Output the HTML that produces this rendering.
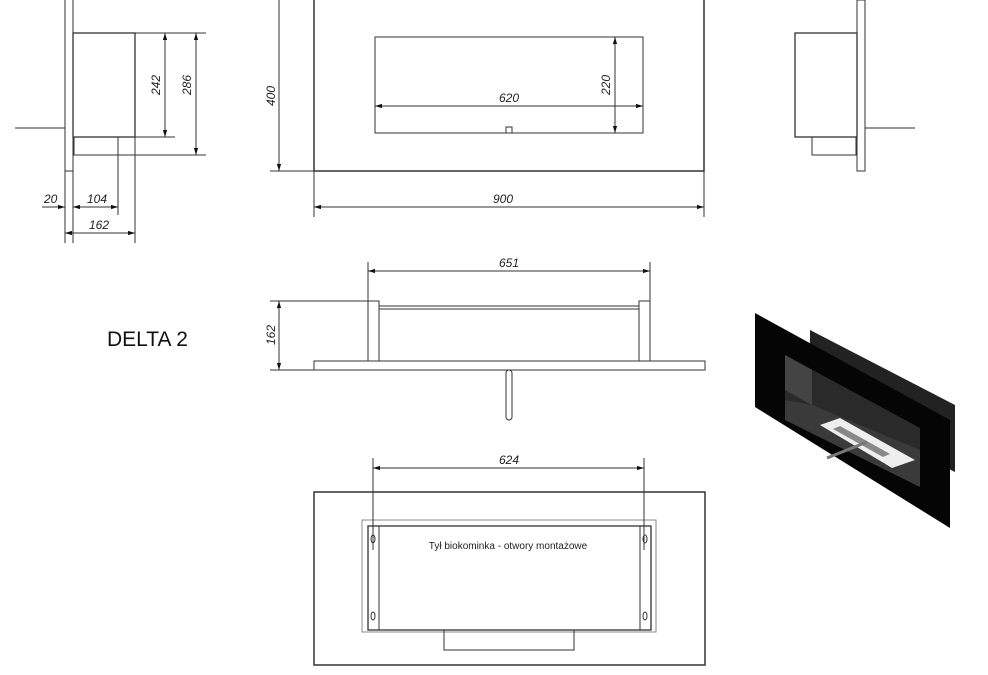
<!DOCTYPE html>
<html><head><meta charset="utf-8"><style>
body{margin:0;background:#fff;}
svg{display:block}
text{font-family:"Liberation Sans",sans-serif;font-style:italic;font-size:12px;fill:#222}
</style></head><body>
<svg width="988" height="675" viewBox="0 0 988 675" xmlns="http://www.w3.org/2000/svg">
<defs>
<marker id="a" viewBox="0 0 10 10" refX="10" refY="5" markerWidth="7" markerHeight="7" orient="auto-start-reverse"><path d="M0,2 L10,5 L0,8z" fill="#111"/></marker>
</defs>
<g stroke="#333" fill="none" stroke-width="1">
<line x1="65" y1="0" x2="65" y2="243"/><line x1="73" y1="0" x2="73" y2="243"/>
<line x1="65" y1="171" x2="73" y2="171"/>
<rect x="73" y="33" width="62" height="104" stroke-width="1.3"/>
<rect x="74" y="137" width="44" height="18"/>
<line x1="118" y1="155" x2="118" y2="215"/><line x1="135" y1="137" x2="135" y2="243"/>
<line x1="15" y1="128" x2="65" y2="128"/>
<line x1="135" y1="33" x2="206" y2="33"/><line x1="135" y1="137" x2="175" y2="137"/><line x1="118" y1="155" x2="206" y2="155"/>
<line x1="165" y1="33" x2="165" y2="137" marker-start="url(#a)" marker-end="url(#a)"/>
<line x1="196" y1="33" x2="196" y2="155" marker-start="url(#a)" marker-end="url(#a)"/>
<line x1="42" y1="207" x2="65" y2="207" marker-end="url(#a)"/>
<line x1="73" y1="207" x2="118" y2="207" marker-start="url(#a)" marker-end="url(#a)"/>
<line x1="65" y1="233" x2="135" y2="233" marker-start="url(#a)" marker-end="url(#a)"/>
<rect x="314" y="-2" width="390" height="173" stroke-width="1.5"/>
<rect x="375" y="37" width="268" height="96"/>
<rect x="506" y="127" width="6" height="6"/>
<line x1="375" y1="106" x2="643" y2="106" marker-start="url(#a)" marker-end="url(#a)"/>
<line x1="615" y1="37" x2="615" y2="133" marker-start="url(#a)" marker-end="url(#a)"/>
<line x1="270" y1="171" x2="314" y2="171"/>
<line x1="279" y1="0" x2="279" y2="171" marker-end="url(#a)"/>
<line x1="314" y1="171" x2="314" y2="217"/><line x1="704" y1="171" x2="704" y2="217"/>
<line x1="314" y1="207" x2="704" y2="207" marker-start="url(#a)" marker-end="url(#a)"/>
<rect x="795" y="33" width="62" height="104" stroke-width="1.3"/>
<rect x="857" y="0" width="8" height="171"/>
<rect x="812" y="137" width="44" height="18"/>
<line x1="865" y1="128" x2="915" y2="128"/>
<rect x="314" y="361" width="391" height="9"/>
<rect x="368" y="301" width="11" height="60"/>
<rect x="639" y="301" width="11" height="60"/>
<line x1="379" y1="306" x2="639" y2="306"/><line x1="379" y1="309" x2="639" y2="309"/>
<rect x="506" y="370" width="6" height="50" rx="3"/>
<line x1="368" y1="262" x2="368" y2="301"/><line x1="650" y1="262" x2="650" y2="301"/>
<line x1="368" y1="271" x2="650" y2="271" marker-start="url(#a)" marker-end="url(#a)"/>
<line x1="270" y1="301" x2="368" y2="301"/><line x1="270" y1="370" x2="314" y2="370"/>
<line x1="279" y1="301" x2="279" y2="370" marker-start="url(#a)" marker-end="url(#a)"/>
<rect x="314" y="492" width="391" height="173" stroke-width="1.5"/>
<rect x="362" y="520" width="294" height="112" stroke="#888"/>
<rect x="368" y="526" width="283" height="104" stroke-width="1.3"/>
<rect x="368" y="526" width="11" height="104"/>
<rect x="640" y="526" width="11" height="104"/>
<rect x="444" y="630" width="130" height="20"/>
<ellipse cx="373" cy="539" rx="2" ry="4"/><ellipse cx="645" cy="539" rx="2" ry="4"/>
<ellipse cx="373" cy="616" rx="2" ry="4"/><ellipse cx="645" cy="616" rx="2" ry="4"/>
<line x1="373" y1="458" x2="373" y2="550"/><line x1="644" y1="458" x2="644" y2="550"/>
<line x1="373" y1="468" x2="644" y2="468" marker-start="url(#a)" marker-end="url(#a)"/>
</g>
<polygon points="810,330 955,405 955,472 810,400" fill="#222"/>
<polygon points="755,313 950,420 950,528 755,407" fill="#050505"/>
<polygon points="785,355 920,428 920,487 785,420" fill="#2a2a2a"/>
<polygon points="785,355 812,370 812,405 785,390" fill="#444"/>
<polygon points="812,405 920,450 920,487 785,420 785,400" fill="#3a3a3a"/>
<polygon points="820,425 840,418 915,460 892,468" fill="#eee"/>
<polygon points="833,429 840,426 890,454 883,457" fill="#888"/>
<line x1="827" y1="458" x2="867" y2="442" stroke="#777" stroke-width="3"/>
<text x="107" y="346" style="font-style:normal;font-size:21px;fill:#111">DELTA 2</text>
<text x="44" y="203">20</text><text x="87" y="203">104</text><text x="89" y="229">162</text>
<text transform="translate(160,85) rotate(-90)" text-anchor="middle">242</text>
<text transform="translate(191,85) rotate(-90)" text-anchor="middle">286</text>
<text transform="translate(275,96) rotate(-90)" text-anchor="middle">400</text>
<text x="509" y="102" text-anchor="middle">620</text>
<text transform="translate(610,85) rotate(-90)" text-anchor="middle">220</text>
<text x="503" y="203" text-anchor="middle">900</text>
<text x="509" y="267" text-anchor="middle">651</text>
<text transform="translate(275,335) rotate(-90)" text-anchor="middle">162</text>
<text x="509" y="464" text-anchor="middle">624</text>
<text x="508" y="549" text-anchor="middle" style="font-style:normal;font-size:10px">Tył biokominka - otwory montażowe</text>
</svg>
</body></html>
